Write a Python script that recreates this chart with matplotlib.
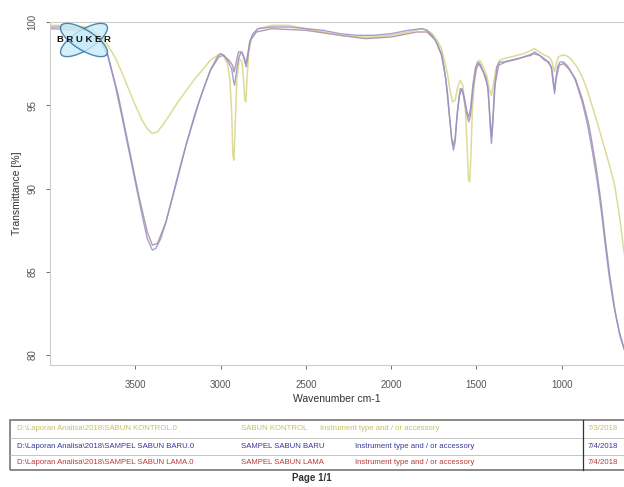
import matplotlib
matplotlib.use("Agg")
import matplotlib.pyplot as plt
from matplotlib.patches import Ellipse, Rectangle
from matplotlib.lines import Line2D

plt.rcParams['font.family'] = ['Liberation Sans', 'DejaVu Sans']

# --- spectra (wavenumber cm-1, transmittance %) ---
kontrol_wn = [4000, 3900, 3800, 3750, 3700, 3660, 3620, 3580, 3540, 3500,
              3460, 3430, 3400, 3370, 3340, 3300, 3250, 3200, 3150, 3100,
              3060, 3020, 3000, 2980, 2960, 2945, 2935, 2928, 2922, 2915,
              2905, 2890, 2875, 2865, 2858, 2852, 2845, 2835, 2815, 2780,
              2700, 2600, 2500, 2400, 2300, 2200, 2100, 2000, 1900, 1820,
              1790, 1760, 1730, 1705, 1690, 1670, 1655, 1640, 1625, 1610,
              1595, 1580, 1565, 1555, 1547, 1540, 1533, 1525, 1510, 1495,
              1480, 1460, 1440, 1425, 1412, 1400, 1385, 1365, 1340, 1300,
              1260, 1220, 1180, 1160, 1130, 1100, 1075, 1060, 1050, 1042,
              1035, 1020, 1000, 980, 960, 940, 910, 880, 850, 820,
              790, 765, 740, 715, 690, 665, 640, 620]
kontrol_t = [99.8, 99.8, 99.7, 99.5, 99.1, 98.6, 97.9, 97.0, 96.0, 95.0,
             94.1, 93.6, 93.3, 93.4, 93.8, 94.4, 95.2, 95.9, 96.6, 97.2,
             97.7, 98.0, 98.1, 97.9, 97.5, 96.5, 94.5, 92.0, 91.7, 93.5,
             96.5, 97.8, 97.6, 96.5, 95.3, 95.2, 96.6, 98.2, 99.2, 99.6,
             99.8, 99.8, 99.6, 99.4, 99.2, 99.1, 99.1, 99.2, 99.4, 99.6,
             99.5, 99.3, 98.9, 98.4, 97.8, 96.9, 95.9, 95.2, 95.3, 96.1,
             96.5, 96.2, 94.8, 92.6, 90.6, 90.4, 91.8, 94.5, 96.8, 97.6,
             97.7, 97.3, 96.8, 96.0, 95.6, 96.3, 97.2, 97.7, 97.8, 97.9,
             98.0, 98.1, 98.3, 98.4, 98.2, 98.0, 97.9, 97.7, 97.3, 97.0,
             97.4, 97.9, 98.0, 98.0, 97.9, 97.7, 97.3, 96.7, 95.9, 94.9,
             93.9, 93.0, 92.1, 91.2, 90.2, 88.6, 86.6, 85.2]

baru_wn = [4000, 3900, 3800, 3750, 3700, 3660, 3620, 3580, 3540, 3500,
           3460, 3430, 3400, 3380, 3350, 3320, 3280, 3240, 3200, 3150,
           3100, 3060, 3020, 3000, 2980, 2955, 2935, 2925, 2918, 2910,
           2895, 2880, 2868, 2858, 2850, 2842, 2830, 2810, 2780, 2700,
           2600, 2500, 2400, 2300, 2200, 2100, 2000, 1900, 1820, 1790,
           1760, 1730, 1705, 1690, 1670, 1655, 1645, 1635, 1625, 1615,
           1600, 1585, 1570, 1555, 1545, 1535, 1520, 1505, 1490, 1475,
           1460, 1445, 1430, 1420, 1412, 1404, 1395, 1380, 1365, 1340,
           1300, 1260, 1220, 1180, 1160, 1130, 1100, 1075, 1060, 1050,
           1042, 1035, 1025, 1010, 990, 970, 950, 920, 880, 850,
           820, 790, 765, 745, 720, 700, 680, 660, 640, 620]
baru_t = [99.7, 99.7, 99.6, 99.3, 98.8, 97.9, 96.3, 94.4, 92.4, 90.4,
          88.4, 87.0, 86.3, 86.4, 87.0, 88.0, 89.6, 91.2, 92.7, 94.5,
          96.0, 97.1, 97.9, 98.1, 98.0, 97.6, 97.2, 96.5, 96.2, 96.8,
          97.8, 98.2, 98.0, 97.6, 97.3, 97.8, 98.8, 99.3, 99.6, 99.7,
          99.7, 99.6, 99.5, 99.3, 99.2, 99.2, 99.3, 99.5, 99.6, 99.5,
          99.2, 98.7, 98.1, 97.3, 95.8, 94.0, 92.9, 92.3, 92.8, 94.2,
          95.6, 96.0, 95.4, 94.6, 94.3, 94.8, 96.3, 97.3, 97.6, 97.4,
          97.0, 96.7, 95.8, 93.8, 92.7, 93.9, 96.0, 97.3, 97.6, 97.6,
          97.7, 97.8, 97.9, 98.0, 98.2, 98.0, 97.7, 97.6, 97.2, 96.3,
          95.7, 96.5, 97.3, 97.6, 97.6, 97.4, 97.1, 96.5, 95.2, 93.9,
          92.2, 90.3, 88.4, 86.6, 84.6, 83.3, 82.2, 81.3, 80.6, 80.0]

lama_wn = [4000, 3800, 3700, 3660, 3600, 3540, 3480, 3430, 3400, 3370,
           3320, 3260, 3200, 3120, 3060, 3010, 2985, 2950, 2930, 2921,
           2912, 2895, 2875, 2860, 2851, 2842, 2825, 2790, 2700, 2500,
           2300, 2150, 2000, 1850, 1790, 1740, 1705, 1680, 1660, 1645,
           1636, 1625, 1612, 1595, 1580, 1560, 1545, 1535, 1520, 1500,
           1485, 1460, 1435, 1420, 1412, 1403, 1390, 1370, 1330, 1250,
           1170, 1130, 1090, 1060, 1048, 1041, 1033, 1015, 990, 960,
           920, 880, 840, 800, 770, 745, 720, 690, 660, 630]
lama_t = [99.6, 99.5, 98.9, 98.0, 95.6, 92.6, 89.6, 87.4, 86.6, 86.7,
          88.0, 90.3, 92.7, 95.4, 97.1, 97.9, 98.0, 97.7, 97.4, 97.0,
          97.4, 98.2, 98.2, 97.8, 97.5, 98.0, 98.9, 99.4, 99.6, 99.5,
          99.2, 99.0, 99.1, 99.4, 99.4, 98.9, 98.0, 96.6, 94.5, 93.0,
          92.6, 93.0, 94.6, 96.0, 95.8, 94.6, 94.0, 94.4, 96.0, 97.2,
          97.5, 97.0, 96.2, 94.2, 93.1, 94.2, 96.3, 97.4, 97.6, 97.8,
          98.1, 98.0, 97.7, 97.3, 96.4, 95.9, 96.6, 97.4, 97.5, 97.2,
          96.6, 95.4, 93.8, 91.4, 89.2, 87.0, 84.9, 82.8, 81.2, 80.2]

x_ticks = [3500, 3000, 2500, 2000, 1500, 1000]
y_ticks = [80, 85, 90, 95, 100]

# table rows: file path, sample name, instrument, date
files = ['D:\\Laporan Analisa\\2018\\SABUN KONTROL.0',
         'D:\\Laporan Analisa\\2018\\SAMPEL SABUN BARU.0',
         'D:\\Laporan Analisa\\2018\\SAMPEL SABUN LAMA.0']
names = ['SABUN KONTROL', 'SAMPEL SABUN BARU', 'SAMPEL SABUN LAMA']
instrument = 'Instrument type and / or accessory'
dates = ['7/3/2018', '7/4/2018', '7/4/2018']

line_colors = ['#dcdc98', '#b89aaa', '#9292c8']
text_colors = ['#c8c060', '#38389a', '#b83a3a']

W, H = 624, 487
fig = plt.figure(figsize=(W / 100, H / 100), dpi=100)
ax = fig.add_axes([50 / W, 1 - 365 / H, 574 / W, 343 / H])

ax.plot(kontrol_wn, kontrol_t, color=line_colors[0], lw=1.1)
ax.plot(lama_wn, lama_t, color=line_colors[1], lw=1.0)
ax.plot(baru_wn, baru_t, color=line_colors[2], lw=1.0, alpha=0.85)

ax.set_xlim(4000, 635)
ax.set_ylim(79.4, 100)
ax.set_xticks(x_ticks)
ax.set_yticks(y_ticks)
ax.set_yticklabels([str(v) for v in y_ticks], rotation=90, va='center')
ax.tick_params(colors='#555555', labelsize=7, length=3, width=0.6)
ax.tick_params(axis='x', pad=8)
ax.tick_params(axis='y', pad=6)
for s in ['left', 'bottom', 'top']:
    ax.spines[s].set_color('#cccccc')
    ax.spines[s].set_linewidth(0.8)
ax.spines['right'].set_visible(False)
ax.set_xlabel('Wavenumber cm-1', fontsize=7.5, color='#333333', labelpad=3)
ax.set_ylabel('Transmittance [%]', fontsize=7.5, color='#333333', labelpad=4)

# Bruker logo
lg = fig.add_axes([48 / W, 1 - 62 / H, 72 / W, 44 / H])
lg.set_xlim(0, 72)
lg.set_ylim(0, 44)
lg.axis('off')
for ang in (32, -32):
    lg.add_patch(Ellipse((36, 22), 54, 20, angle=ang, facecolor='#c8ecf8',
                         edgecolor='#2a6a9a', lw=1.0, alpha=0.8))
lg.text(36, 22, 'B R U K E R', fontsize=6.8, fontweight='bold', color='#111111',
        ha='center', va='center')

# footer table
x0, x1 = 10 / W, 630 / W
top, bot = 1 - 420 / H, 1 - 470 / H
fig.add_artist(Rectangle((x0, bot), x1 - x0, top - bot, transform=fig.transFigure,
                         fill=False, edgecolor='#777777', lw=1.2))
for yy in (438, 455):
    fig.add_artist(Line2D([x0, x1], [1 - yy / H] * 2, transform=fig.transFigure,
                          color='#bbbbbb', lw=0.6))
fig.add_artist(Line2D([583 / W] * 2, [bot, top], transform=fig.transFigure,
                      color='#333333', lw=0.9))
row_y = [429, 446, 462]
col3_x = [320, 355, 355]
for i in range(3):
    y = 1 - row_y[i] / H
    kw = dict(fontsize=5.6, color=text_colors[i], va='center', ha='left')
    fig.text(17 / W, y, files[i], **kw)
    fig.text(241 / W, y, names[i], **kw)
    fig.text(col3_x[i] / W, y, instrument, **kw)
    fig.text(588 / W, y, dates[i], **kw)

fig.text(312 / W, 1 - 478 / H, 'Page 1/1', fontsize=7, fontweight='bold',
         color='#333333', ha='center', va='center')

fig.savefig('out.png', dpi=100)
